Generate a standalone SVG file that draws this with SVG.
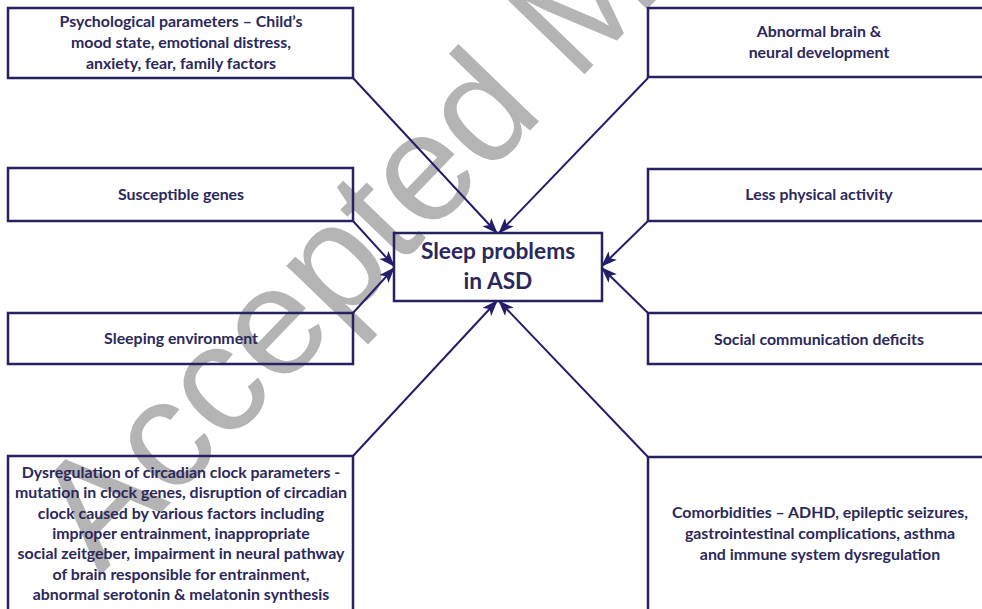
<svg xmlns="http://www.w3.org/2000/svg" width="982" height="609" viewBox="0 0 982 609">
<style>
.box{fill:none;stroke:#262262;stroke-width:2.5}
.t{font-family:Lato,"Open Sans","Liberation Sans",sans-serif;font-weight:bold;font-size:15.9px;fill:#2b285c;text-anchor:middle}
.big{font-size:22.7px}
.con{stroke:#231d6b;stroke-width:2;fill:none}
.wm{font-family:"Liberation Sans",Arial,sans-serif;font-size:154px;fill:#b4b4b4}
</style>
<defs>
<marker id="ah" markerUnits="userSpaceOnUse" markerWidth="16" markerHeight="12" viewBox="0 0 16 12" refX="15" refY="6" orient="auto">
<path d="M0,0 L16,6 L0,12 L4,6 z" fill="#231d6b"/>
</marker>
</defs>
<rect width="982" height="609" fill="#ffffff"/>
<text class="wm" transform="translate(100,576) rotate(-46)">Accepted Manuscript</text>
<g id="connectors">
<line class="con" x1="353" y1="78" x2="497" y2="233" marker-end="url(#ah)"/>
<line class="con" x1="648" y1="78" x2="499" y2="233" marker-end="url(#ah)"/>
<line class="con" x1="353" y1="221" x2="394" y2="266" marker-end="url(#ah)"/>
<line class="con" x1="353" y1="313" x2="394" y2="268" marker-end="url(#ah)"/>
<line class="con" x1="648" y1="221" x2="602" y2="266" marker-end="url(#ah)"/>
<line class="con" x1="648" y1="313" x2="602" y2="268" marker-end="url(#ah)"/>
<line class="con" x1="353" y1="456" x2="497" y2="301" marker-end="url(#ah)"/>
<line class="con" x1="648" y1="457" x2="499" y2="301" marker-end="url(#ah)"/>
</g>
<g id="center">
<rect class="box" x="394" y="233" width="208" height="68"/>
<text class="t big" x="498" y="259">Sleep problems</text>
<text class="t big" x="498" y="289">in ASD</text>
</g>
<g id="psychological">
<rect class="box" x="8" y="8" width="345" height="70"/>
<text class="t" x="181" y="27">Psychological parameters – Child’s</text>
<text class="t" x="181" y="48">mood state, emotional distress,</text>
<text class="t" x="181" y="69">anxiety, fear, family factors</text>
</g>
<g id="brain">
<rect class="box" x="648" y="8" width="342" height="69"/>
<text class="t" x="819" y="37">Abnormal brain &amp;</text>
<text class="t" x="819" y="58">neural development</text>
</g>
<g id="genes">
<rect class="box" x="8" y="168" width="345" height="53"/>
<text class="t" x="181" y="200">Susceptible genes</text>
</g>
<g id="environment">
<rect class="box" x="8" y="313" width="345" height="51"/>
<text class="t" x="181" y="344">Sleeping environment</text>
</g>
<g id="activity">
<rect class="box" x="648" y="169" width="342" height="52"/>
<text class="t" x="819" y="200">Less physical activity</text>
</g>
<g id="social">
<rect class="box" x="648" y="313" width="342" height="51"/>
<text class="t" x="819" y="345">Social communication deficits</text>
</g>
<g id="circadian">
<rect class="box" x="8" y="456" width="345" height="170"/>
<text class="t" x="181" y="478">Dysregulation of circadian clock parameters  -</text>
<text class="t" x="181" y="498">mutation in clock genes, disruption of circadian</text>
<text class="t" x="181" y="519">clock caused by various factors including</text>
<text class="t" x="181" y="539">improper entrainment, inappropriate</text>
<text class="t" x="181" y="559">social zeitgeber, impairment in neural pathway</text>
<text class="t" x="181" y="580">of brain responsible for entrainment,</text>
<text class="t" x="181" y="600">abnormal serotonin &amp; melatonin synthesis</text>
</g>
<g id="comorbidities">
<rect class="box" x="648" y="457" width="342" height="170"/>
<text class="t" x="820" y="518">Comorbidities – ADHD, epileptic seizures,</text>
<text class="t" x="820" y="539">gastrointestinal complications, asthma</text>
<text class="t" x="820" y="560">and immune system dysregulation</text>
</g>
</svg>
